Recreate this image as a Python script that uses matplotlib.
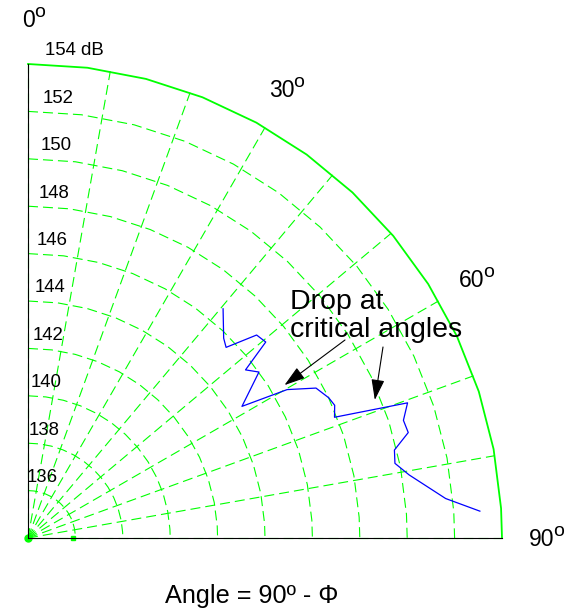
import numpy as np
import matplotlib
matplotlib.use('Agg')
import matplotlib.pyplot as plt
from matplotlib.transforms import offset_copy

plt.rcParams['font.family'] = ['Liberation Sans', 'DejaVu Sans']
plt.rcParams['mathtext.fontset'] = 'custom'
plt.rcParams['mathtext.rm'] = 'Liberation Sans'

angle_deg = [40.4, 44.4, 46.1, 48.4, 50.5, 52.3, 54.3, 58.4, 60.2, 62.5, 65.0,
             66.6, 68.5, 70.4, 72.6, 74.5, 76.5, 78.5, 80.6, 84.6, 86.6]
level_db = [146.7, 145.8, 145.6, 146.9, 147.0, 145.6, 146.0, 144.6, 146.6, 147.7, 148.0,
            148.1, 147.9, 151.0, 150.6, 150.65, 149.9, 149.8, 150.3, 151.7, 153.1]

# rings and spokes
inner_level = 134
outer_level = 154
ring_levels = [136, 138, 140, 142, 144, 146, 148, 150, 152]
ring_labels = ['136', '138', '140', '142', '144', '146', '148', '150', '152']
outer_label = '154 dB'
spoke_angles = [0, 10, 20, 30, 40, 50, 60, 70, 80, 90]
angle_ticks = [0, 30, 60, 90]

# arrow tips (angle deg, level dB)
arrow_tips = [(59.2, 146.6), (68.3, 149.75)]

green = '#00ff00'
W, H = 576, 612

fig = plt.figure(figsize=(W / 100, H / 100), dpi=100)
ax = fig.add_axes([28 / W, 74 / H, 474 / W, 474 / H], projection='polar')
ax.set_theta_zero_location('N')
ax.set_theta_direction(-1)
ax.set_thetamin(0)
ax.set_thetamax(90)
ax.set_rlim(inner_level, outer_level)
ax.set_xticks([])
ax.set_yticks([])
ax.grid(False)
for s in ax.spines.values():
    s.set_visible(False)
ax.patch.set_visible(False)

# polygonal rings (the original draws circles as 7.2 deg segments)
poly = np.deg2rad(np.append(np.arange(0, 90, 7.2), 90))
for lev in ring_levels:
    ax.plot(poly, np.full_like(poly, lev), color=green, lw=0.8, dashes=(9, 4.5), clip_on=False)
ax.plot(poly, np.full_like(poly, outer_level), color=green, lw=1.3, clip_on=False)
for a in spoke_angles:
    ax.plot([np.deg2rad(a)] * 2, [inner_level, outer_level], color=green, lw=0.8,
            dashes=(9, 4.5), clip_on=False)
ax.plot([0], [inner_level], 'o', color=green, ms=5, clip_on=False)
ax.plot([np.pi / 2], [ring_levels[0] - 0.1], 's', color=green, ms=3, clip_on=False)

# data
ax.plot(np.deg2rad(angle_deg), level_db, color='#0000ff', lw=0.9, clip_on=False)

# ring labels, just above each ring on the 0 deg axis
for lev, lab in zip(ring_levels, ring_labels):
    tr = offset_copy(ax.transData, fig=fig, x=(lev - 136) * 1.0 - 1, y=13, units='dots')
    ax.text(0, lev, lab, transform=tr, ha='left', va='center', fontsize=13.4)
tr = offset_copy(ax.transData, fig=fig, x=17, y=13, units='dots')
ax.text(0, outer_level, outer_label, transform=tr, ha='left', va='center', fontsize=13.4)

# angle labels: number plus a raised "o"
for a in angle_ticks:
    t = np.deg2rad(a)
    ax.text(t, 155.9, str(a), ha='right', va='center', fontsize=16.5,
            transform=offset_copy(ax.transData, fig=fig, x=7, y=-2, units='dots'))
    ax.text(t, 155.9, 'o', ha='left', va='center', fontsize=14,
            transform=offset_copy(ax.transData, fig=fig, x=6, y=6, units='dots'))

# annotation
fig.text(290 / W, 1 - 316 / H, 'Drop at\ncritical angles', ha='left', va='center',
         fontsize=20.5, linespacing=1.1)
tails = [(345, 340), (383, 347)]
for (a, lev), (tx, ty) in zip(arrow_tips, tails):
    ax.annotate('', xy=(np.deg2rad(a), lev), xytext=(tx / W, 1 - ty / H),
                textcoords='figure fraction',
                arrowprops=dict(arrowstyle='-|>,head_length=0.85,head_width=0.27',
                                mutation_scale=15, color='black', lw=0.8,
                                shrinkA=0, shrinkB=0))

fig.text(252 / W, 1 - 603 / H, 'Angle = 90º - Φ', ha='center', va='baseline', fontsize=18.2)

fig.savefig('out.png', dpi=100)
